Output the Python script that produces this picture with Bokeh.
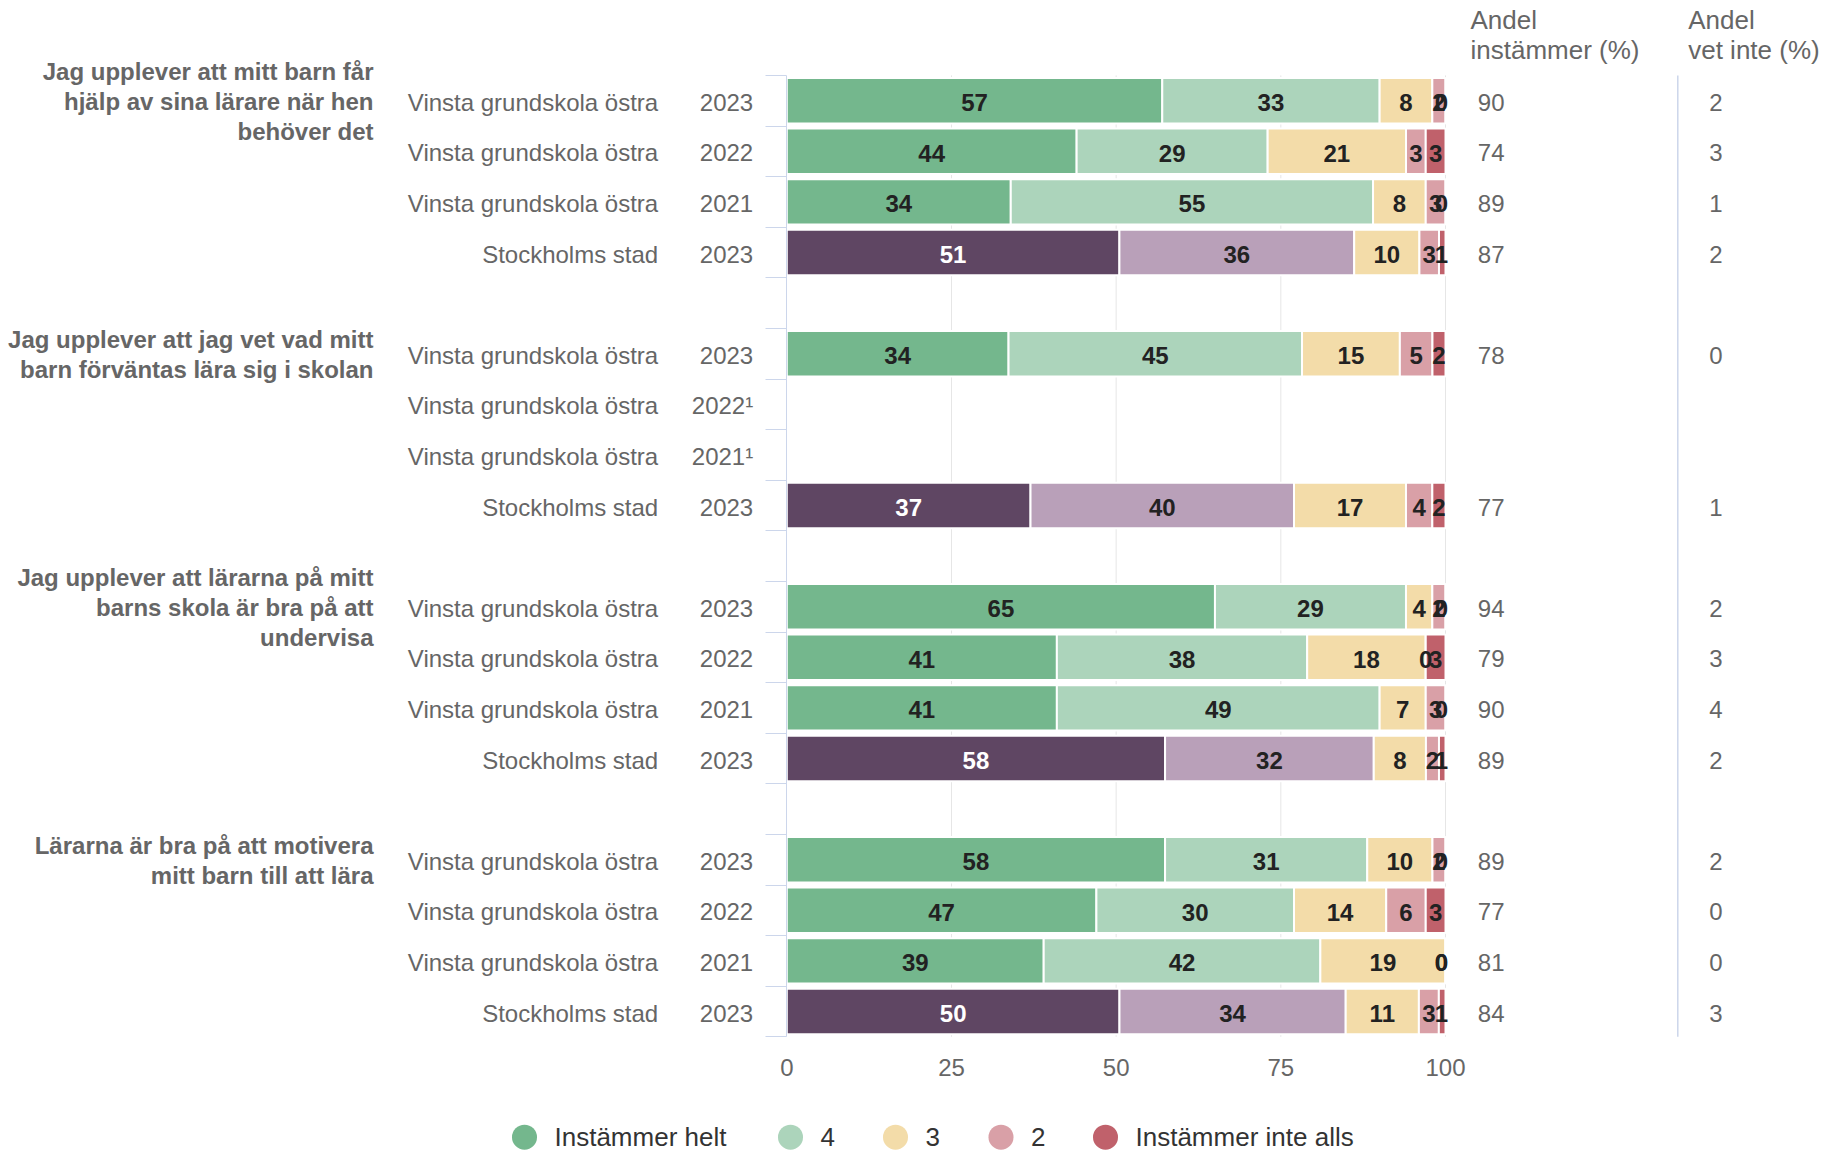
from bokeh.plotting import figure
from bokeh.models import ColumnDataSource, Range1d, LinearAxis, FixedTicker
from bokeh.core.properties import value
from bokeh.embed import file_html
from bokeh.resources import INLINE

# ---------------- data ----------------
question_lines = [
    ["Jag upplever att mitt barn får", "hjälp av sina lärare när hen", "behöver det"],
    ["Jag upplever att jag vet vad mitt", "barn förväntas lära sig i skolan"],
    ["Jag upplever att lärarna på mitt", "barns skola är bra på att", "undervisa"],
    ["Lärarna är bra på att motivera", "mitt barn till att lära"],
]
row_units = [
    "Vinsta grundskola östra", "Vinsta grundskola östra", "Vinsta grundskola östra", "Stockholms stad",
    "Vinsta grundskola östra", "Vinsta grundskola östra", "Vinsta grundskola östra", "Stockholms stad",
    "Vinsta grundskola östra", "Vinsta grundskola östra", "Vinsta grundskola östra", "Stockholms stad",
    "Vinsta grundskola östra", "Vinsta grundskola östra", "Vinsta grundskola östra", "Stockholms stad",
]
row_years = [
    "2023", "2022", "2021", "2023",
    "2023", "2022¹", "2021¹", "2023",
    "2023", "2022", "2021", "2023",
    "2023", "2022", "2021", "2023",
]
instammer_helt = [57, 44, 34, 51, 34, None, None, 37, 65, 41, 41, 58, 58, 47, 39, 50]
svar_4 = [33, 29, 55, 36, 45, None, None, 40, 29, 38, 49, 32, 31, 30, 42, 34]
svar_3 = [8, 21, 8, 10, 15, None, None, 17, 4, 18, 7, 8, 10, 14, 19, 11]
svar_2 = [2, 3, 3, 3, 5, None, None, 4, 2, 0, 3, 2, 2, 6, 0, 3]
instammer_inte_alls = [0, 3, 0, 1, 2, None, None, 2, 0, 3, 0, 1, 0, 3, 0, 1]
andel_instammer = [90, 74, 89, 87, 78, None, None, 77, 94, 79, 90, 89, 89, 77, 81, 84]
andel_vet_inte = [2, 3, 1, 2, 0, None, None, 1, 2, 3, 4, 2, 2, 0, 0, 3]

series_names = ["Instämmer helt", "4", "3", "2", "Instämmer inte alls"]
series_colors = ["#74b78d", "#acd4bb", "#f3dca9", "#d9a0a7", "#c0616b"]
city_colors = ["#5f4663", "#b9a0b9"]
city_name = "Stockholms stad"
x_ticks = [0, 25, 50, 75, 100]
header_instammer = ["Andel", "instämmer (%)"]
header_vet_inte = ["Andel", "vet inte (%)"]

# ---------------- layout ----------------
W, H = 1838, 1155
X0_PX, X_PX_PER = 786.3, 6.587      # pixel of x=0 and pixels per percent
Y0_PX, Y_PX_PER = 100.2, 50.6       # pixel of first row and pixels per row
ROWS_PER_GROUP, GROUP_STEP = 4, 5
N_SLOTS = 19
BAR_H = 45.4 / Y_PX_PER
FONT = "Liberation Sans"
GRAY = "#666666"


def xd(px):
    return (px - X0_PX) / X_PX_PER


def yd(px):
    return (px - Y0_PX) / Y_PX_PER


row_pos = [g * GROUP_STEP + j for g in range(len(question_lines)) for j in range(ROWS_PER_GROUP)]
top_b, bot_b = -0.5, N_SLOTS - 0.5

p = figure(width=W, height=H, x_range=Range1d(xd(0), xd(W)), y_range=Range1d(yd(H), yd(0)),
           output_backend="svg", toolbar_location=None, x_axis_location=None,
           y_axis_location=None, min_border=0, outline_line_color=None, title=None,
           background_fill_color="white", border_fill_color="white")
p.grid.visible = False

# grid lines
grid_x = x_ticks[1:]
p.segment(x0=grid_x, y0=[top_b] * len(grid_x), x1=grid_x, y1=[bot_b] * len(grid_x),
          line_color="#e6e6e6", line_width=1)

# separator for the "vet inte" column
sep_x = xd(1677.3)
p.segment(x0=[sep_x], y0=[top_b], x1=[sep_x], y1=[bot_b], line_color="#ccd6eb", line_width=1.5)

# bars
series = [instammer_helt, svar_4, svar_3, svar_2, instammer_inte_alls]
lab = dict(x=[], y=[], text=[], color=[])
for k, vals in enumerate(series):
    d = dict(y=[], left=[], right=[], color=[])
    for r in range(len(row_units)):
        row_vals = [s[r] for s in series]
        if row_vals[0] is None:
            continue
        tot = float(sum(row_vals))
        left = sum(row_vals[:k]) / tot * 100
        right = sum(row_vals[:k + 1]) / tot * 100
        city = row_units[r] == city_name
        d["y"].append(row_pos[r])
        d["left"].append(left)
        d["right"].append(right)
        d["color"].append(city_colors[k] if (city and k < len(city_colors)) else series_colors[k])
        lab["x"].append(min((left + right) / 2, 99.4))
        lab["y"].append(row_pos[r] + 2.0 / Y_PX_PER)
        lab["text"].append(str(vals[r]))
        lab["color"].append("white" if (city and k == 0) else "#222222")
    p.hbar(y="y", left="left", right="right", height=BAR_H, fill_color="color",
           line_color="white", line_width=2, source=ColumnDataSource(d))

p.text(x="x", y="y", text="text", text_color="color", source=ColumnDataSource(lab),
       text_font=value(FONT), text_font_size="24px", text_font_style="bold",
       text_align="center", text_baseline="middle")

# axes
yaxis = LinearAxis(fixed_location=0, ticker=FixedTicker(ticks=[i - 0.5 for i in range(N_SLOTS + 1)]),
                   bounds=(top_b, bot_b), axis_line_color="#ccd6eb", axis_line_width=1,
                   major_tick_line_color="#ccd6eb", major_tick_out=21, major_tick_in=0,
                   minor_tick_line_color=None,
                   major_label_overrides={i - 0.5: "" for i in range(N_SLOTS + 1)})
p.add_layout(yaxis, "left")

xaxis = LinearAxis(fixed_location=bot_b, ticker=FixedTicker(ticks=x_ticks),
                   axis_line_color=None, major_tick_line_color=None, minor_tick_line_color=None,
                   major_tick_out=0, major_tick_in=0, major_label_standoff=22,
                   major_label_text_font=FONT, major_label_text_font_size="24px",
                   major_label_text_color=GRAY)
p.add_layout(xaxis, "below")

# row labels
lab_y = [y + 1.5 / Y_PX_PER for y in row_pos]
p.text(x=[xd(657.7)] * len(row_units), y=lab_y, text=row_units, text_color=GRAY,
       text_font=value(FONT), text_font_size="24px", text_align="right", text_baseline="middle")
p.text(x=[xd(752.7)] * len(row_years), y=lab_y, text=row_years, text_color=GRAY,
       text_font=value(FONT), text_font_size="24px", text_align="right", text_baseline="middle")

# question titles
tx, ty, tt = [], [], []
for g, lines in enumerate(question_lines):
    n = len(lines)
    for k, line in enumerate(lines):
        tx.append(xd(373))
        ty.append(g * GROUP_STEP + ((k - (n - 1) / 2) * 30 + 0.5) / Y_PX_PER)
        tt.append(line)
p.text(x=tx, y=ty, text=tt, text_color=GRAY, text_font=value(FONT), text_font_size="24px",
       text_font_style="bold", text_align="right", text_baseline="middle")

# right columns
vi = [i for i, v in enumerate(andel_instammer) if v is not None]
p.text(x=[xd(1477.3)] * len(vi), y=[lab_y[i] for i in vi], text=[str(andel_instammer[i]) for i in vi],
       text_color=GRAY, text_font=value(FONT), text_font_size="24px", text_align="left",
       text_baseline="middle")
vv = [i for i, v in enumerate(andel_vet_inte) if v is not None]
p.text(x=[xd(1715.5)] * len(vv), y=[lab_y[i] for i in vv], text=[str(andel_vet_inte[i]) for i in vv],
       text_color=GRAY, text_font=value(FONT), text_font_size="24px", text_align="center",
       text_baseline="middle")

head_y = [yd(19.5), yd(49.5)]
p.text(x=[xd(1470)] * 2, y=head_y, text=header_instammer, text_color=GRAY, text_font=value(FONT),
       text_font_size="26px", text_align="left", text_baseline="middle")
p.text(x=[xd(1687.7)] * 2, y=head_y, text=header_vet_inte, text_color=GRAY, text_font=value(FONT),
       text_font_size="26px", text_align="left", text_baseline="middle")

# legend
legend_centers_px = [524, 790, 895, 1000.5, 1105]
leg_y = yd(1136.7)
p.scatter(x=[xd(c) for c in legend_centers_px], y=[leg_y] * 5, marker="circle", size=25,
          fill_color=series_colors, line_color=None)
p.text(x=[xd(c + 30) for c in legend_centers_px], y=[leg_y] * 5, text=series_names,
       text_color="#333333", text_font=value(FONT), text_font_size="26px", text_align="left",
       text_baseline="middle")

open("out.html", "w").write(file_html(p, INLINE))
